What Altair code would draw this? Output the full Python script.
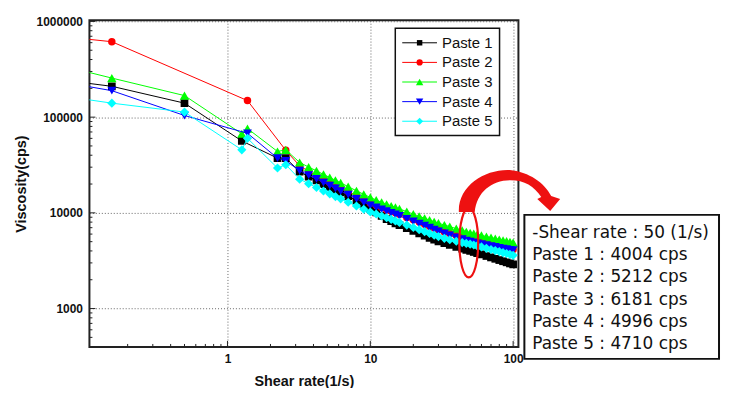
import altair as alt
import pandas as pd

SERIES = ["Paste 1", "Paste 2", "Paste 3", "Paste 4", "Paste 5"]
COLORS = ["#000000", "#ff0000", "#00ff00", "#0000ff", "#00ffff"]
SHAPES = ["square", "circle", "triangle-up", "triangle-down", "diamond"]
SIZES = [60, 56, 90, 81, 85]
LEG_SIZES = [30, 40, 56, 56, 50]

# low shear-rate points (each paste measured at slightly different rates)
LOW_X_1 = [0.1, 0.155, 0.5, 1.26, 2.24, 2.56]
LOW_Y_1 = [228000, 210000, 140000, 56400, 37300, 37300]
LOW_X_2 = [0.1, 0.155, 1.38, 2.56]
LOW_Y_2 = [657000, 614000, 149000, 45000]
LOW_X_3 = [0.1, 0.155, 0.5, 1.26, 1.38, 2.24, 2.56]
LOW_Y_3 = [301000, 256000, 168000, 67000, 76000, 43800, 45500]
LOW_X_4 = [0.1, 0.155, 0.5, 1.38, 2.24, 2.56]
LOW_Y_4 = [212000, 189000, 104000, 67800, 37300, 35000]
LOW_X_5 = [0.1, 0.155, 0.5, 1.26, 1.38, 2.24, 2.56]
LOW_Y_5 = [154000, 140000, 113000, 45500, 60100, 29400, 31800]

# dense part of the sweep
DENSE_X = [3.2, 3.7, 4.2, 4.7, 5.2, 5.7, 6.2, 7, 8, 9, 10, 11, 12, 13, 14, 15, 16,
           18, 20, 22, 24, 26, 28, 30, 33, 36, 40, 44, 47, 50, 53, 56, 60, 65, 70,
           75, 80, 85, 90, 95, 100]
DENSE_Y_1 = [26900, 23900, 21800, 20000, 18600, 17400, 16400, 14900, 13400, 12100,
             11000, 10100, 9290, 8590, 8170, 7780, 7450, 6920, 6490, 6110, 5780,
             5480, 5240, 5040, 4820, 4630, 4420, 4230, 4100, 4004, 3900, 3790, 3680,
             3540, 3420, 3310, 3210, 3120, 3040, 2960, 2900]
DENSE_Y_2 = [31000, 27200, 24500, 22400, 20800, 19400, 18300, 16700, 15100, 13900,
             12700, 12000, 11400, 10800, 10400, 10000, 9660, 8950, 8450, 8020, 7620,
             7260, 6930, 6670, 6320, 6080, 5790, 5550, 5380, 5212, 5130, 5020, 4910,
             4780, 4660, 4550, 4460, 4370, 4290, 4200, 4130]
DENSE_Y_3 = [33600, 30100, 27500, 25200, 23400, 21900, 20600, 18800, 17000, 15600,
             14500, 13600, 12900, 12300, 11800, 11400, 11000, 10300, 9700, 9200, 8790,
             8390, 8070, 7800, 7460, 7180, 6840, 6550, 6350, 6181, 6070, 5940, 5810,
             5650, 5510, 5380, 5270, 5160, 5070, 4970, 4890]
DENSE_Y_4 = [27600, 24800, 22600, 20700, 19300, 18000, 16900, 15500, 14000, 12900,
             12000, 11400, 10900, 10400, 10000, 9640, 9290, 8650, 8150, 7720, 7340,
             6990, 6680, 6420, 6100, 5830, 5530, 5300, 5140, 4996, 4900, 4800, 4700,
             4590, 4490, 4400, 4310, 4230, 4170, 4110, 4070]
DENSE_Y_5 = [22500, 20200, 18400, 16900, 15800, 14800, 14000, 12900, 11800, 10900,
             10200, 9720, 9270, 8880, 8550, 8240, 7940, 7450, 7030, 6670, 6370,
             6080, 5850, 5650, 5420, 5230, 5050, 4890, 4790, 4710, 4610, 4520, 4410,
             4260, 4140, 4030, 3940, 3840, 3760, 3680, 3600]

ANNOT_LINES = ["-Shear rate : 50 (1/s)", "Paste 1 : 4004 cps", "Paste 2 : 5212 cps",
               "Paste 3 : 6181 cps", "Paste 4 : 4996 cps", "Paste 5 : 4710 cps"]

X_MAJOR = [1, 10, 100]
Y_MAJOR = [1000, 10000, 100000, 1000000]
X_MINOR = [m * d for d in (0.1, 1, 10) for m in range(2, 10)]
Y_MINOR = [m * d for d in (100, 1000, 10000, 100000) for m in range(2, 10) if m * d >= 400]

low_x = [LOW_X_1, LOW_X_2, LOW_X_3, LOW_X_4, LOW_X_5]
low_y = [LOW_Y_1, LOW_Y_2, LOW_Y_3, LOW_Y_4, LOW_Y_5]
dense_y = [DENSE_Y_1, DENSE_Y_2, DENSE_Y_3, DENSE_Y_4, DENSE_Y_5]

rows = []
for i, name in enumerate(SERIES):
    for xv, yv in zip(low_x[i] + DENSE_X, low_y[i] + dense_y[i]):
        rows.append({"series": name, "rate": xv, "visc": yv})
df = pd.DataFrame(rows)

W, H = 432, 329
FONT = "Liberation Sans"
xscale = alt.Scale(type="log", domain=[0.108, 108.9], nice=False)
yscale = alt.Scale(type="log", domain=[397, 1.029e6], nice=False)

x_axis = alt.Axis(values=X_MAJOR, format="d", title="Shear rate(1/s)", grid=True,
                  gridDash=[1, 2], gridColor="#666", gridWidth=1, ticks=False,
                  domain=False, labelFont=FONT, labelFontWeight="bold", labelFontSize=12,
                  labelPadding=7, labelColor="#111", labelOverlap=False,
                  titleFont=FONT, titleFontWeight="bold", titleFontSize=14.5,
                  titleColor="#111", titleY=35, titleBaseline="middle")
y_axis = alt.Axis(values=Y_MAJOR, format="d", title="Viscosity(cps)", grid=True,
                  gridDash=[1, 2], gridColor="#666", gridWidth=1, ticks=False,
                  domain=False, labelFont=FONT, labelFontWeight="bold", labelFontSize=12,
                  labelPadding=7, labelColor="#111", labelOverlap=False,
                  titleFont=FONT, titleFontWeight="bold", titleFontSize=14.5,
                  titleColor="#111", titleX=-68, titleY=H / 2, titleBaseline="middle",
                  titleAlign="center")

layers = []
# inside tick marks
layers.append(alt.Chart(pd.DataFrame({"v": X_MINOR})).mark_rule(color="#222", strokeWidth=1)
              .encode(x=alt.X("v:Q", scale=xscale, axis=x_axis), y=alt.value(H), y2=alt.value(H - 3)))
layers.append(alt.Chart(pd.DataFrame({"v": X_MAJOR})).mark_rule(color="#222", strokeWidth=1)
              .encode(x=alt.X("v:Q", scale=xscale, axis=x_axis), y=alt.value(H), y2=alt.value(H - 6)))
layers.append(alt.Chart(pd.DataFrame({"v": Y_MINOR})).mark_rule(color="#222", strokeWidth=1)
              .encode(y=alt.Y("v:Q", scale=yscale, axis=y_axis), x=alt.value(0), x2=alt.value(3)))
layers.append(alt.Chart(pd.DataFrame({"v": Y_MAJOR})).mark_rule(color="#222", strokeWidth=1)
              .encode(y=alt.Y("v:Q", scale=yscale, axis=y_axis), x=alt.value(0), x2=alt.value(6)))

X = alt.X("rate:Q", scale=xscale, axis=x_axis)
Y = alt.Y("visc:Q", scale=yscale, axis=y_axis)
for name, c, s, sz in zip(SERIES, COLORS, SHAPES, SIZES):
    base = alt.Chart(df).transform_filter(alt.datum.series == name)
    layers.append(base.mark_line(color=c, strokeWidth=1, clip=True).encode(x=X, y=Y))
    layers.append(base.mark_point(shape=s, filled=True, color=c, size=sz, opacity=1,
                                  clip=True).encode(x=X, y=Y))

one = pd.DataFrame({"k": [0]})

# legend
layers.append(alt.Chart(one).mark_rect(fill="white", stroke="#111", strokeWidth=1.5)
              .encode(x=alt.value(308), x2=alt.value(413), y=alt.value(8), y2=alt.value(116)))
for i, (name, c, s, sz) in enumerate(zip(SERIES, COLORS, SHAPES, LEG_SIZES)):
    yi = 22.7 + 19.75 * i
    layers.append(alt.Chart(one).mark_rule(color=c, strokeWidth=1)
                  .encode(x=alt.value(315), x2=alt.value(350), y=alt.value(yi)))
    layers.append(alt.Chart(one).mark_point(shape=s, filled=True, color=c, size=sz, opacity=1)
                  .encode(x=alt.value(332.5), y=alt.value(yi)))
    layers.append(alt.Chart(pd.DataFrame({"label": [name]}))
                  .mark_text(align="left", baseline="middle", font=FONT, fontSize=15, color="#111")
                  .encode(x=alt.value(355), y=alt.value(yi), text="label:N"))

# red ellipse (custom symbol path, size=4 => path units are pixels)
cx, cy, rx, ry, k = 382, 224, 9.5, 35, 0.5523
ell = (f"M{cx},{cy-ry} C{cx+k*rx},{cy-ry} {cx+rx},{cy-k*ry} {cx+rx},{cy} "
       f"C{cx+rx},{cy+k*ry} {cx+k*rx},{cy+ry} {cx},{cy+ry} "
       f"C{cx-k*rx},{cy+ry} {cx-rx},{cy+k*ry} {cx-rx},{cy} "
       f"C{cx-rx},{cy-k*ry} {cx-k*rx},{cy-ry} {cx},{cy-ry} Z")
layers.append(alt.Chart(one).mark_point(shape=ell, size=4, filled=False, stroke="#ee1111",
                                        strokeWidth=2.2, opacity=1)
              .encode(x=alt.value(0), y=alt.value(0)))
arrow = ("M372,193 C371,166 400,149 425,151 C442,153 458,163 465,177 L474,180 L464,192 "
         "L451,180 L455,178 C448,167 438,161 424,161 C405,161 390,173 388,193 Z")
layers.append(alt.Chart(one).mark_point(shape=arrow, size=4, filled=True, color="#ee1111",
                                        opacity=1)
              .encode(x=alt.value(0), y=alt.value(0)))

# annotation box
layers.append(alt.Chart(one).mark_rect(fill="white", stroke="#111", strokeWidth=2)
              .encode(x=alt.value(438), x2=alt.value(634), y=alt.value(196), y2=alt.value(341)))
for i, line in enumerate(ANNOT_LINES):
    layers.append(alt.Chart(pd.DataFrame({"label": [line]}))
                  .mark_text(align="left", baseline="middle", font="DejaVu Sans", fontSize=17,
                             color="#111")
                  .encode(x=alt.value(446), y=alt.value(214.3 + 22.35 * i), text="label:N"))

chart = (alt.layer(*layers)
         .properties(width=W, height=H,
                     autosize=alt.AutoSizeParams(type="none"),
                     padding={"left": 82, "top": 11, "right": 204, "bottom": 40},
                     background="white")
         .configure_view(stroke="#222", strokeWidth=2))

chart.save("out.html", embed_options={"renderer": "svg", "actions": False})
